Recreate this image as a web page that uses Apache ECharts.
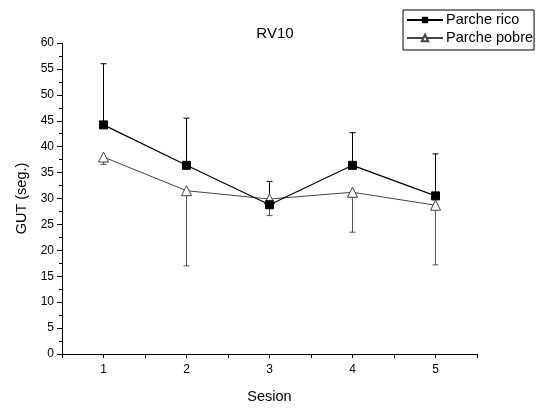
<!DOCTYPE html>
<html><head><meta charset="utf-8">
<script src="https://cdn.jsdelivr.net/npm/echarts@6/dist/echarts.min.js"></script>
<style>html,body{margin:0;padding:0;background:#fff}#c{width:548px;height:409px}</style>
</head><body><div id="c"></div>
<script>
var sessions = [1, 2, 3, 4, 5];
var ricoValues = [44.2, 36.4, 28.8, 36.4, 30.5];
var ricoUpper = [56.0, 45.5, 33.3, 42.7, 38.6];
var pobreValues = [38.0, 31.5, 29.9, 31.2, 28.7];
var pobreLower = [36.6, 17.0, 26.7, 23.5, 17.2];
var yTicks = [0, 60, 5];

var font = '"Liberation Sans", Arial, sans-serif';
function pairs(xs, ys){ return xs.map(function(x,i){return [x, ys[i]];}); }
function errData(xs, a, b){ return xs.map(function(x,i){return [x, a[i], b[i]];}); }
function errRender(color){
  return function(params, api){
    var x = api.value(0);
    var p1 = api.coord([x, api.value(1)]);
    var p2 = api.coord([x, api.value(2)]);
    var w = 3;
    var st = {stroke: color, lineWidth: 1};
    return {type:'group', children:[
      {type:'line', shape:{x1:p1[0], y1:p1[1], x2:p2[0], y2:p2[1]}, style:st},
      {type:'line', shape:{x1:p2[0]-w, y1:p2[1], x2:p2[0]+w, y2:p2[1]}, style:st}
    ]};
  };
}
var chart = echarts.init(document.getElementById('c'));
chart.setOption({
  animation: false,
  backgroundColor: '#fff',
  title: {text: 'RV10', left: 270, top: 21, textAlign: 'center',
    textStyle: {fontFamily: font, fontSize: 15, fontWeight: 'normal', color: '#000'}},
  legend: {
    left: 403, top: 10, orient: 'vertical', itemGap: 2, itemWidth: 36, itemHeight: 8,
    padding: [2, 1, 4, 3], borderColor: '#000', borderWidth: 1,
    textStyle: {fontFamily: font, fontSize: 14.5, lineHeight: 16, color: '#000', padding: [0,0,0,-2]},
    data: ['Parche rico', 'Parche pobre']
  },
  grid: {left: 62, right: 71, top: 43, bottom: 55},
  xAxis: {
    type: 'value', min: 0.5, max: 5.5, interval: 0.5,
    name: 'Sesion', nameLocation: 'middle', nameGap: 35,
    nameTextStyle: {fontFamily: font, fontSize: 14.5, color: '#000'},
    axisLine: {onZero: false, lineStyle: {color: '#000', width: 1}},
    axisTick: {length: 4, lineStyle: {color: '#000'}},
    axisLabel: {fontFamily: font, fontSize: 12, color: '#000', margin: 10,
      formatter: function(v){ return (Math.abs(v - Math.round(v)) < 1e-6) ? String(Math.round(v)) : ''; }},
    splitLine: {show: false}
  },
  yAxis: {
    type: 'value', min: yTicks[0], max: yTicks[1], interval: yTicks[2],
    name: 'GUT (seg.)', nameLocation: 'middle', nameGap: 31, nameRotate: 90,
    nameTextStyle: {fontFamily: font, fontSize: 14.5, color: '#000'},
    axisLine: {show: true, lineStyle: {color: '#000', width: 1}},
    axisTick: {show: true, length: 5, lineStyle: {color: '#000'}},
    minorTick: {show: true, splitNumber: 2, length: 3, lineStyle: {color: '#000'}},
    axisLabel: {fontFamily: font, fontSize: 12, color: '#000', margin: 8},
    splitLine: {show: false}
  },
  series: [
    {type: 'custom', name: 'ricoErr', renderItem: errRender('#000'),
      data: errData(sessions, ricoValues, ricoUpper), z: 1, silent: true},
    {type: 'custom', name: 'pobreErr', renderItem: errRender('#555'),
      data: errData(sessions, pobreValues, pobreLower), z: 1, silent: true},
    {type: 'line', name: 'Parche pobre', data: pairs(sessions, pobreValues),
      symbol: 'triangle', symbolSize: 10, showAllSymbol: true,
      lineStyle: {color: '#444', width: 1},
      itemStyle: {color: '#fff', borderColor: '#444', borderWidth: 1}, z: 3},
    {type: 'line', name: 'Parche rico', data: pairs(sessions, ricoValues),
      symbol: 'rect', symbolSize: 8, showAllSymbol: true,
      lineStyle: {color: '#000', width: 1.2},
      itemStyle: {color: '#000', borderColor: '#000'}, z: 4}
  ]
});
</script></body></html>
